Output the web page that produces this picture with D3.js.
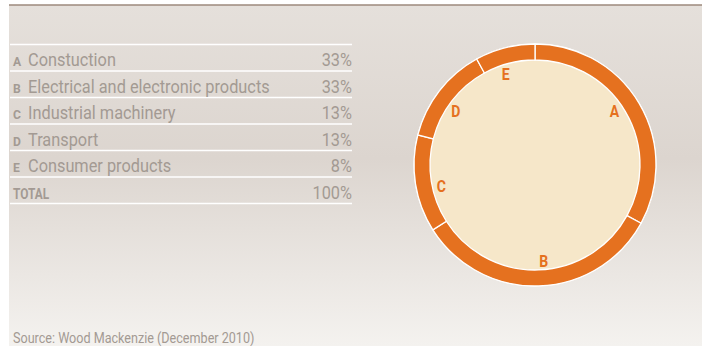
<!DOCTYPE html>
<html>
<head>
<meta charset="utf-8">
<script src="https://cdn.jsdelivr.net/npm/d3@7"></script>
<style>
  html, body { margin: 0; padding: 0; background: #ffffff; }
  svg { display: block; }
</style>
</head>
<body>
<svg id="chart" width="708" height="346"></svg>
<script>
// Copper end-use shares
const codes = ["A", "B", "C", "D", "E"];
const categories = ["Constuction", "Electrical and electronic products", "Industrial machinery", "Transport", "Consumer products"];
const shares = [33, 33, 13, 13, 8];
const totalLabel = "TOTAL";
const totalValue = 100;
const source = "Source: Wood Mackenzie (December 2010)";

const svg = d3.select("#chart");
const W = 708, H = 346;
const textColor = "#a39a93";
const orange = "#e5711f";
const cream = "#f6e7c9";
const font = "Roboto, 'Liberation Sans', sans-serif";
const squeeze = 0.86; // condensed look

// text drawn horizontally condensed
function ctext(parent, x, y, str, opts) {
  const sx = opts.sx || squeeze;
  return parent.append("text")
    .attr("transform", `translate(${x},${y}) scale(${sx},1)`)
    .attr("text-anchor", opts.anchor || "start")
    .attr("dy", opts.dy || null)
    .attr("font-family", font)
    .attr("font-weight", opts.weight || "normal")
    .attr("font-size", opts.size)
    .attr("fill", opts.fill || textColor)
    .text(str);
}

// panel background
const defs = svg.append("defs");
const grad = defs.append("linearGradient").attr("id", "bg").attr("x1", 0).attr("y1", 0).attr("x2", 0).attr("y2", 1);
grad.append("stop").attr("offset", "0%").attr("stop-color", "#e5e0db");
grad.append("stop").attr("offset", "45%").attr("stop-color", "#dcd5cf");
grad.append("stop").attr("offset", "100%").attr("stop-color", "#f4f2ef");

const panelX = 9, panelR = 702, panelTop = 5;
svg.append("rect").attr("x", panelX).attr("y", panelTop).attr("width", panelR - panelX).attr("height", H - panelTop).attr("fill", "url(#bg)");
svg.append("line").attr("x1", panelX).attr("x2", panelR).attr("y1", panelTop).attr("y2", panelTop)
  .attr("stroke", "#9c8a7c").attr("stroke-width", 1.5);

// table
const rows = codes.map((c, i) => ({ code: c, name: categories[i], value: shares[i] + "%" }));
rows.push({ code: "", name: totalLabel, value: totalValue + "%", total: true });

const tableLeft = 10, tableRight = 352;
const y = d3.scaleBand().domain(d3.range(rows.length)).range([44.5, 44.5 + 26.5 * rows.length]);

const g = svg.append("g");
g.selectAll("line.sep").data(d3.range(rows.length + 1)).join("line")
  .attr("class", "sep")
  .attr("x1", tableLeft).attr("x2", tableRight)
  .attr("y1", i => y.range()[0] + i * y.step()).attr("y2", i => y.range()[0] + i * y.step())
  .attr("stroke", "#ffffff").attr("stroke-width", 1.6);

rows.forEach((d, i) => {
  const by = y(i) + 21.5;
  if (d.total) {
    ctext(g, 13, by, d.name, { size: 14.5, weight: "bold", sx: 0.82 });
  } else {
    ctext(g, 13, by, d.code, { size: 13.5, weight: "bold", sx: 0.9 });
    ctext(g, 28, by, d.name, { size: 19 });
  }
  ctext(g, tableRight, by, d.value, { size: 19, anchor: "end" });
});

// donut
const cx = 535, cy = 165, outerR = 121, innerR = 105;
const pie = d3.pie().sort(null).value(d => d.value);
const arcs = pie(codes.map((c, i) => ({ code: c, value: shares[i] })));
const arc = d3.arc().innerRadius(innerR).outerRadius(outerR);
const labelArc = d3.arc().innerRadius(96).outerRadius(96);
const labelShift = -0.06; // letters sit slightly counter-clockwise of each segment's middle

const dg = svg.append("g").attr("transform", `translate(${cx},${cy})`);
dg.append("circle").attr("r", outerR + 0.5).attr("fill", "#ffffff");
dg.append("circle").attr("r", innerR).attr("fill", cream);
dg.selectAll("path").data(arcs).join("path")
  .attr("d", arc).attr("fill", orange)
  .attr("stroke", "#ffffff").attr("stroke-width", 1.3);
arcs.forEach(d => {
  const [lx, ly] = labelArc.centroid({ startAngle: d.startAngle + labelShift, endAngle: d.endAngle + labelShift });
  ctext(dg, lx, ly, d.data.code, { size: 16.5, weight: "bold", anchor: "middle", dy: "0.36em", fill: orange, sx: 0.85 });
});

// source note
ctext(svg, 13, 343, source, { size: 14, sx: 0.9 });
</script>
</body>
</html>
